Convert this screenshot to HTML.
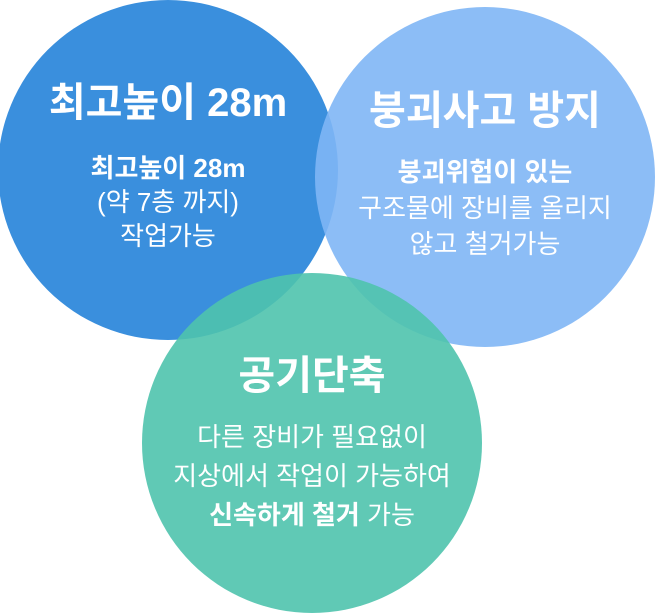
<!DOCTYPE html>
<html><head><meta charset="utf-8"><style>
body{margin:0;width:655px;height:613px;background:#fff;overflow:hidden;position:relative;font-family:"Liberation Sans","Noto Sans CJK KR",sans-serif}
.c{position:absolute;border-radius:50%}
.t{position:absolute;color:#fff;text-align:center;white-space:nowrap;transform:translateX(-50%)}
.h{font-size:40px;font-weight:bold;line-height:40px}
.s{font-size:26px}
</style></head><body>
<div class="c" style="left:-2px;top:0;width:340px;height:340px;background:#3a8fdd"></div>
<div class="c" style="left:315px;top:7px;width:340px;height:340px;background:#7fb6f5;opacity:.9"></div>
<div class="c" style="left:142px;top:273px;width:340px;height:340px;background:#4fc3ad;opacity:.9"></div>
<div class="t h" style="left:168px;top:83px">최고높이 28m</div>
<div class="t s" style="left:168px;top:151px;line-height:34px"><b>최고높이 28m</b><br>(약 7층 까지)<br>작업가능</div>
<div class="t h" style="left:485px;top:91px">붕괴사고 방지</div>
<div class="t s" style="left:485px;top:154px;line-height:36px"><b>붕괴위험이 있는</b><br>구조물에 장비를 올리지<br>않고 철거가능</div>
<div class="t h" style="left:312px;top:356px">공기단축</div>
<div class="t s" style="left:312px;top:418px;line-height:39px">다른 장비가 필요없이<br>지상에서 작업이 가능하여<br><b>신속하게 철거</b> 가능</div>
</body></html>
